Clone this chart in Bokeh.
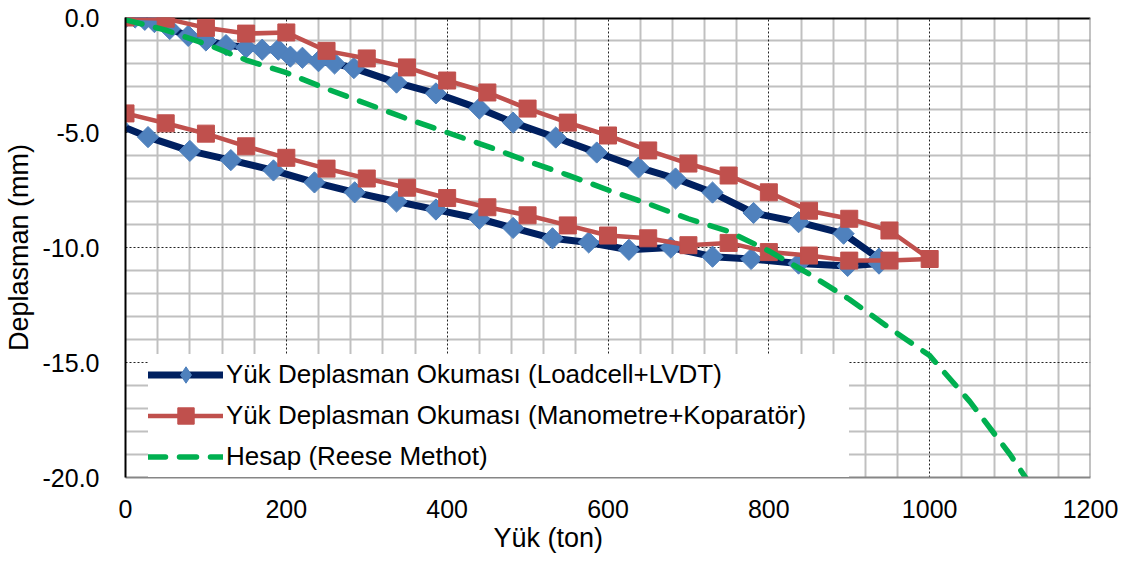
import math

from bokeh.plotting import figure
from bokeh.models import Range1d, FixedTicker, Grid, Span, Legend, LegendItem, Title
from bokeh.embed import file_html
from bokeh.resources import INLINE

# ---- data -----------------------------------------------------------------
# Load-displacement readings, Loadcell + LVDT (loading, then unloading)
lvdt_load = [0, 12, 24, 36, 55, 78, 100, 125, 150, 170, 190, 205, 220, 240, 260,
             284, 337, 386, 440, 482, 535, 586, 638, 684, 730, 781, 837, 893, 937,
             937, 898, 837, 778, 730, 678, 626, 576, 531, 482, 440, 386, 337, 285,
             235, 184, 131, 80, 28, -10]
lvdt_disp = [0.0, 0.0, -0.1, -0.2, -0.5, -0.8, -1.0, -1.2, -1.3, -1.4, -1.4, -1.7,
             -1.75, -1.9, -2.0, -2.2, -2.83, -3.3, -3.96, -4.57, -5.22, -5.87, -6.52,
             -7.0, -7.61, -8.5, -8.9, -9.4, -10.48,
             -10.7, -10.8, -10.7, -10.5, -10.4, -10.0, -10.1, -9.78, -9.6, -9.15,
             -8.75, -8.35, -8.0, -7.6, -7.17, -6.65, -6.2, -5.8, -5.2, -4.65]

# Load-displacement readings, Manometer + comparator (loading, then unloading)
mano_load = [0, 50, 100, 150, 200, 250, 300, 350, 400, 450, 500, 550, 600, 650, 700,
             750, 800, 850, 900, 950, 1000,
             950, 900, 850, 800, 750, 700, 650, 600, 550, 500, 450, 400, 350, 300,
             250, 200, 150, 100, 50, 0]
mano_disp = [0.0, -0.05, -0.45, -0.7, -0.65, -1.45, -1.78, -2.17, -2.74, -3.26, -3.96,
             -4.57, -5.13, -5.78, -6.35, -6.87, -7.6, -8.4, -8.75, -9.26, -10.5,
             -10.57, -10.57, -10.35, -10.2, -9.8, -9.9, -9.6, -9.48, -9.04, -8.6,
             -8.25, -7.85, -7.4, -7.0, -6.57, -6.1, -5.6, -5.05, -4.6, -4.17]

# Calculated curve (Reese method)
reese_load = [0, 50, 100, 150, 200, 250, 300, 350, 400, 450, 500, 550, 600, 650, 700,
              750, 800, 850, 900, 950, 1000, 1050, 1100, 1125]
reese_disp = [-0.1, -0.55, -1.15, -1.85, -2.4, -3.1, -3.75, -4.4, -5.0, -5.6, -6.25,
              -6.85, -7.5, -8.1, -8.75, -9.3, -10.15, -11.15, -12.25, -13.5, -14.7,
              -16.7, -19.0, -20.3]

x_ticks = [0, 200, 400, 600, 800, 1000, 1200]
x_tick_labels = ["0", "200", "400", "600", "800", "1000", "1200"]
y_ticks = [0, -5, -10, -15, -20]
y_tick_labels = ["0.0", "-5.0", "-10.0", "-15.0", "-20.0"]

series_names = [
    "Yük Deplasman Okuması (Loadcell+LVDT)",
    "Yük Deplasman Okuması (Manometre+Koparatör)",
    "Hesap (Reese Methot)",
]
x_title = "Yük (ton)"
y_title = "Deplasman (mm)"

# ---- styling ----------------------------------------------------------------
FONT = "Liberation Sans"
TICK_SIZE = "25px"
LEGEND_SIZE = "26px"
TITLE_SIZE = "27px"
NAVY = "#002060"
BLUE = "#4f81bd"
RED = "#c0504d"
GREEN = "#00b050"
GRID_GRAY = "#c0c0c0"
BORDER_GRAY = "#868686"

p = figure(
    width=1131, height=561,
    x_range=Range1d(0, 1200), y_range=Range1d(-20, 0),
    output_backend="svg", toolbar_location=None,
    min_border_left=124, min_border_right=41,
    min_border_top=17, min_border_bottom=84,
    background_fill_color="white", border_fill_color="white",
)
p.outline_line_color = None
p.xgrid.visible = False
p.ygrid.visible = False

# minor grid (every 40 t / every 1 mm), major dotted grid (every 200 t / every 5 mm)
x_minor = [v for v in range(40, 1200, 40) if v % 200 != 0]
y_minor = [-v for v in range(1, 20) if v % 5 != 0]
x_major = [v for v in x_ticks if 0 < v < 1200]
y_major = [v for v in y_ticks if -20 < v < 0]

for dim, ticks in ((0, x_minor), (1, y_minor)):
    p.add_layout(Grid(dimension=dim, ticker=FixedTicker(ticks=ticks),
                      grid_line_color=GRID_GRAY, grid_line_width=2))
for dim, ticks in ((0, x_major), (1, y_major)):
    p.add_layout(Grid(dimension=dim, ticker=FixedTicker(ticks=ticks),
                      grid_line_color="#222222", grid_line_width=1,
                      grid_line_dash="2 2"))

# frame edges: black load axis along zero displacement, grey right edge
p.add_layout(Span(location=0, dimension="width", line_color="black",
                  line_width=4, level="underlay"))
p.add_layout(Span(location=1200, dimension="height", line_color=BORDER_GRAY,
                  line_width=2, level="underlay"))

# ---- axes -------------------------------------------------------------------
p.xaxis.ticker = FixedTicker(ticks=x_ticks)
p.xaxis.major_label_overrides = dict(zip(x_ticks, x_tick_labels))
p.yaxis.ticker = FixedTicker(ticks=y_ticks)
p.yaxis.major_label_overrides = dict(zip(y_ticks, y_tick_labels))

for ax in (p.xaxis[0], p.yaxis[0]):
    ax.major_tick_line_color = None
    ax.minor_tick_line_color = None
    ax.major_tick_out = 0
    ax.major_tick_in = 0
    ax.major_label_text_font = FONT
    ax.major_label_text_font_size = TICK_SIZE
    ax.major_label_text_color = "black"

p.xaxis.axis_line_color = BORDER_GRAY
p.xaxis.axis_line_width = 2
p.xaxis.major_label_standoff = 22

p.yaxis.axis_line_color = "black"
p.yaxis.axis_line_width = 2
p.yaxis.major_label_standoff = 26
p.yaxis.axis_label = y_title
p.yaxis.axis_label_text_font = FONT
p.yaxis.axis_label_text_font_size = TITLE_SIZE
p.yaxis.axis_label_text_font_style = "normal"
p.yaxis.axis_label_text_color = "black"
p.yaxis.axis_label_standoff = 6

# load axis title sits left of centre, under the 400-600 interval
p.add_layout(Title(text=x_title, align="left", offset=368, standoff=0,
                   text_font=FONT, text_font_size=TITLE_SIZE,
                   text_font_style="normal", text_color="black"), "below")

# ---- series -----------------------------------------------------------------
lvdt_line = p.line(lvdt_load, lvdt_disp, line_color=NAVY, line_width=7,
                   line_join="round", line_cap="round")
# upright diamond at the first reading: serves as the legend key and is covered
# by the rotated-square markers drawn on top of it
lvdt_key = p.scatter(lvdt_load[:1], lvdt_disp[:1], marker="diamond", size=18,
                     fill_color=BLUE, line_color=BLUE)
lvdt_pts = p.scatter(lvdt_load, lvdt_disp, marker="square", angle=math.pi / 4,
                     size=15, fill_color=BLUE, line_color=BLUE)

mano_line = p.line(mano_load, mano_disp, line_color=RED, line_width=4.5,
                   line_join="round", line_cap="round")
mano_pts = p.scatter(mano_load, mano_disp, marker="square", size=17,
                     fill_color=RED, line_color=RED)

reese_line = p.line(reese_load, reese_disp, line_color=GREEN, line_width=5.5,
                    line_dash="17 14", line_cap="round")

legend = Legend(
    items=[
        LegendItem(label=series_names[0], renderers=[lvdt_line, lvdt_key]),
        LegendItem(label=series_names[1], renderers=[mano_line, mano_pts]),
        LegendItem(label=series_names[2], renderers=[reese_line]),
    ],
    location=(23, 0), orientation="vertical",
    padding=1, spacing=0, margin=0,
    glyph_width=75, glyph_height=41, label_height=41,
    label_standoff=3, label_width=623,
    label_text_font=FONT, label_text_font_size=LEGEND_SIZE, label_text_color="black",
    border_line_color=None, background_fill_color="white", background_fill_alpha=1.0,
)
p.add_layout(legend)

open("out.html", "w").write(file_html(p, INLINE))
